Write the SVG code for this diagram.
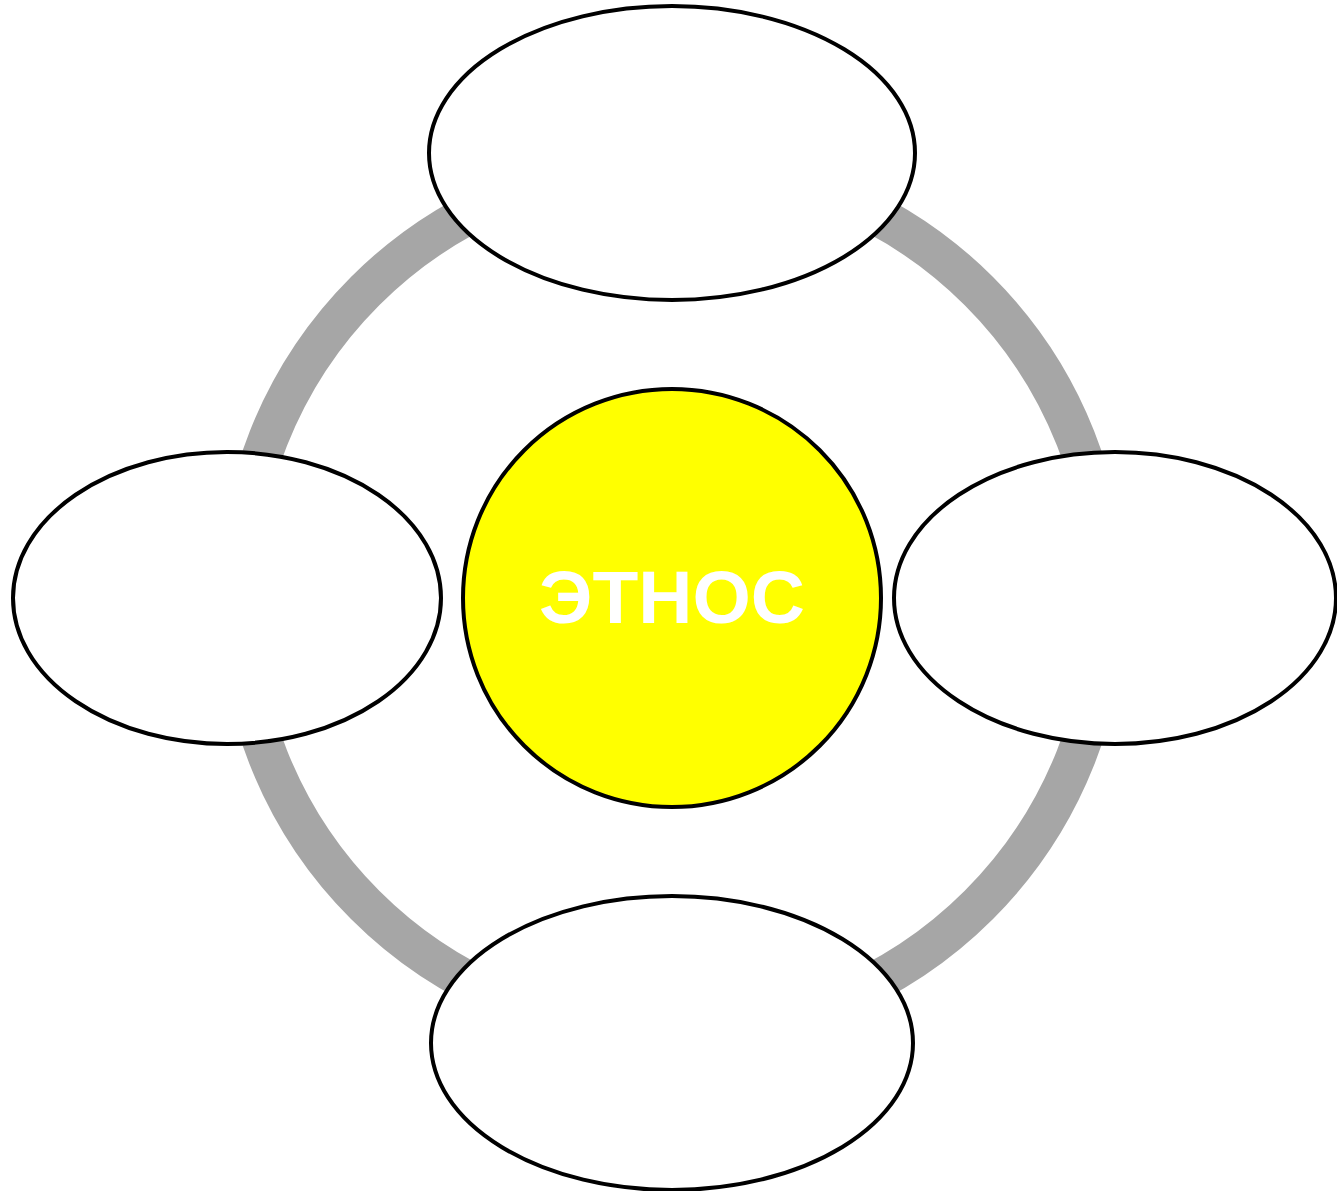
<svg xmlns="http://www.w3.org/2000/svg" width="1337" height="1191" viewBox="0 0 1337 1191">
<style>
.node{fill:#FFFFFF;stroke:#000000;stroke-width:4}
.center{fill:#FFFF00;stroke:#000000;stroke-width:4}
.ring{fill:none;stroke:#A6A6A6;stroke-width:40}
.label{font-family:"Liberation Sans",Arial,sans-serif;font-weight:bold;font-size:75px;fill:#FFFFFF;text-anchor:middle}
</style>
<rect width="1337" height="1191" fill="#FFFFFF"/>
<g id="connectors">
<circle class="ring" cx="672" cy="598" r="434"/>
</g>
<g id="node-top"><ellipse class="node" cx="672" cy="153" rx="243" ry="147"/></g>
<g id="node-left"><ellipse class="node" cx="227" cy="598" rx="214" ry="146"/></g>
<g id="node-right"><ellipse class="node" cx="1115" cy="598" rx="221" ry="146"/></g>
<g id="node-bottom"><ellipse class="node" cx="672" cy="1043" rx="241" ry="147"/></g>
<g id="node-center"><circle class="center" cx="672" cy="598" r="209"/>
<text class="label" x="672" y="623">ЭТНОС</text></g>
</svg>
